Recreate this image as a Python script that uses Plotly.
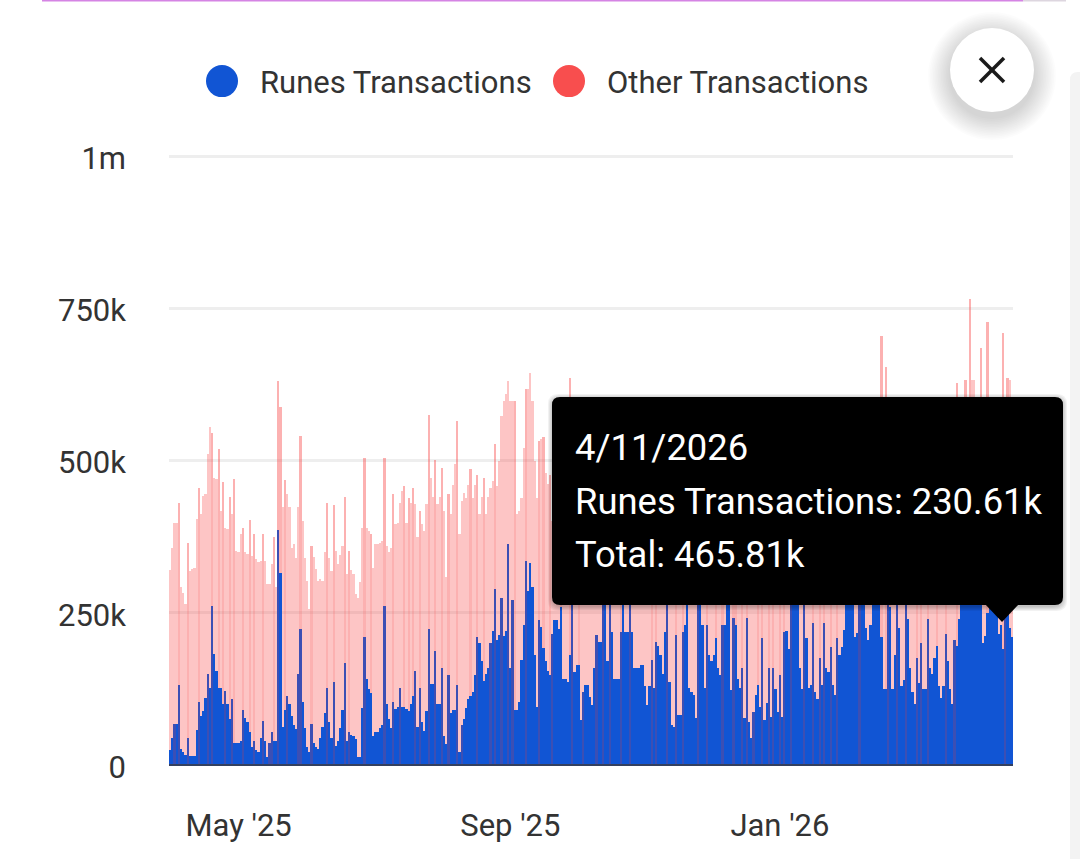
import pandas as pd
import plotly.graph_objects as go

start_date = "2025-03-31"

runes = [
    25,44,67,67,132,26,22,17,44,15,
    15,15,58,104,81,89,110,149,127,261,
    182,155,127,127,100,122,100,75,108,36,
    36,36,40,90,78,70,55,29,40,25,
    21,45,73,40,13,36,54,40,40,386,
    316,63,90,114,100,81,65,59,150,223,
    103,60,29,21,67,36,29,26,45,63,
    85,127,70,45,136,32,40,60,90,168,
    40,54,50,48,43,13,13,93,210,141,
    125,118,48,54,54,60,65,261,100,75,
    60,104,92,95,127,95,95,92,89,100,
    114,155,62,127,70,56,89,224,133,133,
    188,100,100,160,48,34,147,86,90,90,
    132,21,66,75,93,108,114,120,147,210,
    201,170,138,149,159,201,220,289,205,213,
    275,212,220,363,160,271,90,90,104,172,
    230,335,285,331,293,180,95,238,226,192,
    170,155,147,215,238,238,223,
    260,141,141,136,181,266,153,164,164,74,
    120,131,131,112,98,160,213,202,202,270,
    262,170,266,219,142,142,142,219,262,219,
    219,285,219,159,159,160,164,164,129,98,
    129,172,126,202,196,180,150,219,266,137,
    66,63,213,82,82,219,230,266,126,120,
    115,77,266,270,230,126,230,180,170,180,
    208,159,148,230,230,266,270,123,241,230,
    142,126,159,77,241,71,44,87,115,131,
    96,208,74,102,159,79,159,125,87,148,
    79,219,220,191,266,270,266,266,159,125,
    266,208,126,131,233,120,108,176,131,233,
    159,153,193,131,115,208,180,193,222,266,
    270,280,275,210,216,266,270,270,225,205,
    230,262,270,270,270,210,125,125,270,260,
    125,180,270,225,130,140,280,240,160,120,
    100,175,135,200,125,125,240,160,150,175,
    195,130,110,130,215,170,125,100,205,195,
    240,280,275,285,270,280,290,285,270,275,
    262,200,212,250,275,285,270,260,215,230.61,
    190,245,270,225,210,
]

total = [
    320,357,398,398,431,292,283,264,365,319,
    322,324,404,455,412,442,445,510,555,546,
    472,469,519,417,464,390,387,440,412,470,
    352,350,379,390,349,346,403,344,379,338,
    334,335,379,335,297,297,330,374,292,630,
    588,423,468,445,423,357,363,340,423,541,
    401,340,302,256,360,341,322,302,305,302,
    350,431,340,319,427,352,330,345,360,440,
    313,352,320,313,281,275,300,390,505,390,
    385,379,324,363,363,365,368,505,360,350,
    357,445,395,397,430,450,458,398,439,430,
    455,428,374,417,395,385,428,574,472,440,
    501,428,440,488,417,308,445,412,460,494,
    565,379,434,447,439,460,486,439,460,477,
    412,440,472,412,440,455,467,528,458,499,
    573,598,610,630,598,598,598,412,417,439,
    520,617,617,643,598,500,439,532,535,538,
    480,461,477,400,380,400,420,
    470,450,480,520,635,540,450,420,470,430,
    440,420,380,400,420,450,480,460,500,520,
    540,470,520,480,420,430,410,500,530,480,
    470,540,480,420,400,430,440,420,390,370,
    400,430,390,460,470,440,400,480,520,410,
    350,340,460,360,370,480,490,530,400,390,
    380,340,520,530,490,400,490,440,420,440,
    470,420,410,490,500,520,530,390,500,480,
    400,390,420,330,500,340,310,350,380,400,
    360,470,340,370,420,340,420,390,350,410,
    350,480,490,460,530,540,530,520,430,400,
    530,470,400,410,490,400,390,440,400,490,
    430,420,460,410,390,470,450,470,490,540,
    560,600,580,490,500,560,570,590,520,500,
    510,540,600,590,560,705,480,654,560,550,
    410,450,560,490,400,420,580,520,440,390,
    370,450,400,470,390,400,520,430,420,450,
    470,400,380,400,490,440,400,370,480,627,
    520,590,560,632,600,765,632,632,590,600,
    685,480,500,727,530,600,560,530,480,465.81,
    710,480,635,632,560,
]

y_tick_vals = [0, 250000, 500000, 750000, 1000000]
y_tick_text = ["0", "250k", "500k", "750k", "1m"]
x_tick_vals = ["2025-05-01", "2025-09-01", "2026-01-01"]
x_tick_text = ["May '25", "Sep '25", "Jan '26"]
series_names = ["Runes Transactions", "Other Transactions"]
tooltip_lines = ["4/11/2026", "Runes Transactions: 230.61k", "Total: 465.81k"]

BLUE, RED = "#1155D4", "#F84E4E"
FONT = "Roboto"
W, H = 1080, 859
# plot-area pixel box; the y range runs slightly past 1m so the top gridline is kept
L, R, B = 169, 1013, 765
PX_PER_UNIT = 609 / 1000000
Y_TOP = 1010000
T = B - Y_TOP * PX_PER_UNIT


def px(x):
    return (x - L) / (R - L)


def py(y):
    return (B - y) / (B - T)


dates = pd.date_range(start_date, periods=len(runes), freq="D")
other = [(t - r) * 1000 for t, r in zip(total, runes)]
runes_v = [r * 1000 for r in runes]


def is_spike(series, i):
    a = series[max(i - 1, 0)]
    b = series[min(i + 1, len(series) - 1)]
    return series[i] > 1.06 * (a + b) / 2


other_op = [0.44 if is_spike(total, i) else 0.33 for i in range(len(total))]
runes_col = ["#3C4FB4" if is_spike(runes, i) and r > 1.2 * runes[max(i - 1, 0)] else BLUE
             for i, r in enumerate(runes)]

fig = go.Figure()
fig.add_bar(x=dates, y=runes_v, name=series_names[0], marker=dict(color=runes_col, line_width=0),
            showlegend=False, hoverinfo="skip")
fig.add_bar(x=dates, y=other, name=series_names[1],
            marker=dict(color=RED, opacity=other_op, line_width=0),
            showlegend=False, hoverinfo="skip")


def rounded(x0, y0, x1, y1, r):
    return (f"M {px(x0 + r)} {py(y0)} L {px(x1 - r)} {py(y0)} Q {px(x1)} {py(y0)} {px(x1)} {py(y0 + r)} "
            f"L {px(x1)} {py(y1 - r)} Q {px(x1)} {py(y1)} {px(x1 - r)} {py(y1)} "
            f"L {px(x0 + r)} {py(y1)} Q {px(x0)} {py(y1)} {px(x0)} {py(y1 - r)} "
            f"L {px(x0)} {py(y0 + r)} Q {px(x0)} {py(y0)} {px(x0 + r)} {py(y0)} Z")


shapes = []


def circle(cx, cy, r, color):
    shapes.append(dict(type="circle", xref="paper", yref="paper", x0=px(cx - r), x1=px(cx + r),
                       y0=py(cy + r), y1=py(cy - r), fillcolor=color, line_width=0, layer="above"))


def line(x0, y0, x1, y1, color, w):
    shapes.append(dict(type="line", xref="paper", yref="paper", x0=px(x0), x1=px(x1), y0=py(y0), y1=py(y1),
                       line=dict(color=color, width=w), layer="above"))


# baseline drawn over the bars
line(169, 765, 1013, 765, "#34405F", 2)
# page chrome
line(42, 0.5, 1023, 0.5, "#D584E4", 2)
line(1023, 0.5, 1066, 0.5, "#DDD6DF", 2)
shapes.append(dict(type="path", xref="paper", yref="paper", path=rounded(1070, 72, 1090, 870, 8),
                   fillcolor="#F3F3F3", line_width=0, layer="above"))
# legend dots
circle(222, 81, 16, BLUE)
circle(569, 81, 16, "#F84E4E")
# close button
for i in range(14):
    circle(992, 76, 64 - i * 1.6, "rgba(0,0,0,0.011)")
circle(992, 70, 42, "#FFFFFF")
line(980, 58, 1004, 82, "#1A1A1A", 3.5)
line(1004, 58, 980, 82, "#1A1A1A", 3.5)
# tooltip
for i in range(5):
    shapes.append(dict(type="path", xref="paper", yref="paper",
                       path=rounded(552 - 4 + i, 397 - 3 + i, 1063 + 4 - i, 605 + 6 - i, 10),
                       fillcolor="rgba(0,0,0,0.05)", line_width=0, layer="above"))
shapes.append(dict(type="path", xref="paper", yref="paper", path=rounded(552, 397, 1063, 605, 8),
                   fillcolor="#000000", line_width=0, layer="above"))
shapes.append(dict(type="path", xref="paper", yref="paper",
                   path=f"M {px(985)} {py(604)} L {px(1019)} {py(604)} L {px(1002)} {py(622)} Z",
                   fillcolor="#000000", line_width=0, layer="above"))

annotations = []


def label(x, y, text, color, size):
    annotations.append(dict(xref="paper", yref="paper", x=px(x), y=py(y), text=text, showarrow=False,
                            xanchor="left", yanchor="middle", borderpad=0, align="left",
                            font=dict(family=FONT, size=size, color=color)))


label(259, 82, series_names[0], "#333333", 31)
label(606, 82, series_names[1], "#333333", 31)
for yy, t in zip([447, 501, 554], tooltip_lines):
    label(574, yy, t, "#FFFFFF", 36.4)

fig.update_layout(
    width=W, height=H, barmode="stack", bargap=0,
    margin=dict(l=L, r=W - R, t=T, b=H - B, pad=0),
    paper_bgcolor="#FFFFFF", plot_bgcolor="#FFFFFF",
    font=dict(family=FONT, color="#333333", size=31),
    showlegend=False, shapes=shapes, annotations=annotations,
    xaxis=dict(type="date", range=["2025-03-30 12:00", "2026-04-16 12:00"],
               tickvals=x_tick_vals, ticktext=x_tick_text, ticks="", showgrid=False,
               showline=False, ticklabelstandoff=39,
               tickfont=dict(family=FONT, size=31, color="#333333"), zeroline=False),
    yaxis=dict(range=[0, Y_TOP], tickvals=y_tick_vals, ticktext=y_tick_text, ticks="",
               showgrid=True, gridcolor="#EEEEEE", gridwidth=3, zeroline=False, showline=False,
               ticklabelstandoff=42, ticklabelshift=2,
               tickfont=dict(family=FONT, size=31, color="#333333")),
)

fig.write_html("out.html", post_script="document.body.style.margin='0';", config=dict(displayModeBar=False))
